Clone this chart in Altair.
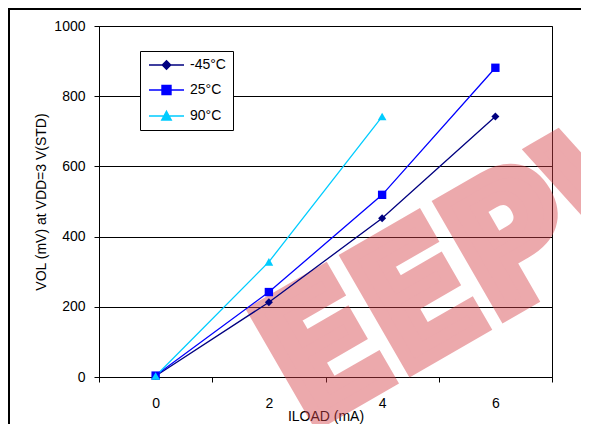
import altair as alt
import pandas as pd

# ---- data ----
series = ["-45°C", "25°C", "90°C"]
iload = [0, 2, 4, 6]
vol_m45 = [3, 213, 452, 742]
vol_25 = [4, 242, 519, 881]
vol_90 = [3, 328, 742]
x_ticks = [-1, 0, 1, 2, 3, 4, 5, 6, 7]
y_ticks = [0, 200, 400, 600, 800, 1000]
watermark = ["EEPW"]

colors = ["#000080", "#0000FF", "#00CCFF"]
shapes = ["diamond", "square", "triangle-up"]
marker_sizes = [64, 76, 90]
# legend symbols: a line segment with the marker in its middle (1 unit = 5 px)
legend_paths = [
    "M-1,0L6,0M2.5,-0.84L3.34,0L2.5,0.84L1.66,0Z",
    "M-1,0L6,0M1.6,-0.9L3.4,-0.9L3.4,0.9L1.6,0.9Z",
    "M-1,0L6,0M2.5,-0.95L3.45,0.8L1.55,0.8Z",
]

rows = []
for s, vals in zip(series, [vol_m45, vol_25, vol_90]):
    for x, v in zip(iload, vals):
        rows.append({"series": s, "iload": x, "vol": v})
df = pd.DataFrame(rows)

FONT = "Liberation Sans"

x_enc = alt.X(
    "iload:Q",
    scale=alt.Scale(domain=[-1, 7], nice=False, zero=False),
    axis=alt.Axis(
        values=x_ticks,
        format="d",
        labelExpr="datum.value % 2 === 0 ? datum.label : ''",
        tickOpacity={"condition": {"test": "datum.value % 2 !== 0", "value": 1}, "value": 0},
        tickSize=5,
        labelPadding=14,
        labelFontSize=14,
        title="ILOAD (mA)",
        titleFontSize=14,
        titleBaseline="alphabetic",
        titleY=43,
        grid=False,
    ),
)
y_enc = alt.Y(
    "vol:Q",
    scale=alt.Scale(domain=[0, 1000], nice=False),
    axis=alt.Axis(
        values=y_ticks,
        format="d",
        tickSize=5,
        labelPadding=9,
        labelFontSize=14,
        title="VOL (mV) at VDD=3 V(STD)",
        titleFontSize=14,
        titlePadding=5,
        grid=True,
        gridColor="black",
        gridWidth=1,
    ),
)

base = alt.Chart(df)

lines = base.mark_line(strokeWidth=1.3).encode(
    x=x_enc,
    y=y_enc,
    order="iload:Q",
    color=alt.Color("series:N", scale=alt.Scale(domain=series, range=colors), legend=None),
)

points = base.mark_point(filled=True, opacity=1).encode(
    x="iload:Q",
    y="vol:Q",
    color=alt.Color("series:N", scale=alt.Scale(domain=series, range=colors), legend=None),
    shape=alt.Shape("series:N", scale=alt.Scale(domain=series, range=shapes), legend=None),
    size=alt.Size("series:N", scale=alt.Scale(domain=series, range=marker_sizes), legend=None),
)

leg = alt.Legend(
    title=None,
    orient="none",
    legendX=41,
    legendY=25,
    padding=7,
    rowPadding=10,
    labelOffset=29,
    labelFontSize=14,
    labelFont=FONT,
    labelColor="black",
    symbolSize=100,
    symbolStrokeWidth=1.4,
    symbolOpacity=1,
    strokeColor="black",
    fillColor="white",
)

legend_layer = (
    base.transform_filter("false")
    .mark_point(filled=False, size=100, strokeWidth=1.4, opacity=1)
    .encode(
        x="iload:Q",
        y="vol:Q",
        color=alt.Color("series:N", scale=alt.Scale(domain=series, range=colors), legend=leg),
        fill=alt.Fill("series:N", scale=alt.Scale(domain=series, range=colors), legend=leg),
        shape=alt.Shape("series:N", scale=alt.Scale(domain=series, range=legend_paths), legend=leg),
    )
)

wm = alt.Chart(pd.DataFrame({"t": watermark})).mark_text(
    font="Liberation Sans Narrow, DejaVu Sans Condensed, Liberation Sans",
    fontWeight="bold",
    fontSize=175,
    angle=330,
    align="left",
    baseline="alphabetic",
    color="#d6424a",
    stroke="#d6424a",
    strokeWidth=14,
    strokeJoin="miter",
    opacity=0.45,
    clip=False,
).encode(x=alt.datum(2.66), y=alt.datum(-148), text="t:N")

frame = alt.Chart(pd.DataFrame({"t": [0]})).mark_rect(
    fillOpacity=0, stroke="black", strokeWidth=2, clip=False
).encode(x=alt.value(-90), x2=alt.value(700), y=alt.value(-17), y2=alt.value(700))

chart = (
    alt.layer(wm, lines, points, legend_layer, frame)
    .resolve_scale(color="independent", shape="independent", fill="independent")
    .properties(
        width=453,
        height=351,
        autosize=alt.AutoSizeParams(type="none"),
        padding={"left": 91, "top": 18, "right": 29, "bottom": 47},
    )
    .configure_view(stroke="black", strokeWidth=1)
    .configure_axis(
        domainColor="black",
        tickColor="black",
        labelColor="black",
        titleColor="black",
        labelFont=FONT,
        titleFont=FONT,
        titleFontWeight="normal",
    )
)

chart.save("out.html", embed_options={"renderer": "svg", "actions": False})
